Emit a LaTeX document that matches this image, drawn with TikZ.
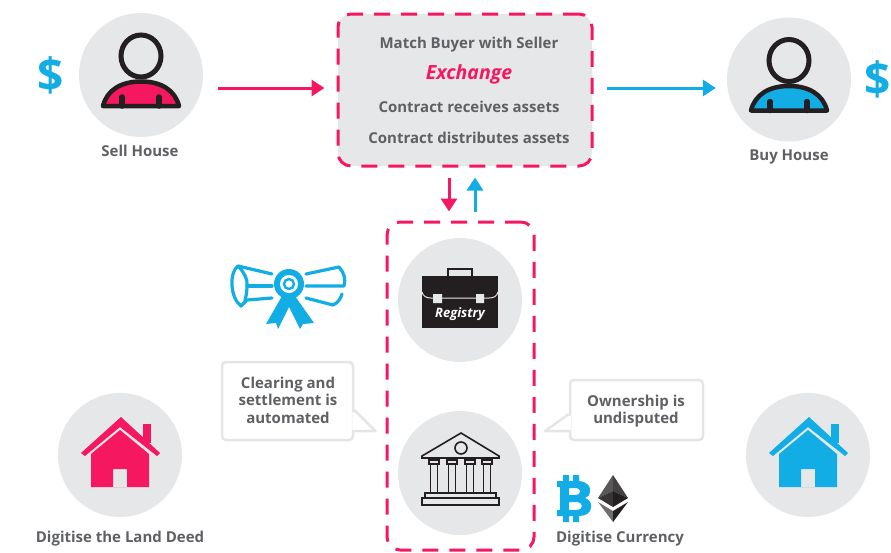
\documentclass[tikz,border=0pt]{standalone}
\usepackage{fontspec}
\setmainfont{Open Sans}
\usetikzlibrary{arrows.meta}
\definecolor{pinkc}{HTML}{F5175F}
\definecolor{bluec}{HTML}{12ADE4}
\definecolor{disc}{HTML}{E5E7E8}
\definecolor{txt}{HTML}{5E6063}
\definecolor{ink}{HTML}{231F20}
\definecolor{bub}{HTML}{E4E6E6}
\tikzset{
  x=1pt,y=-1pt,
  discnode/.style={circle,fill=disc,minimum size=124pt,inner sep=0pt},
  dashbox/.style={draw=pinkc,line width=3pt,rounded corners=13pt,dash pattern=on 16pt off 11pt,inner sep=0pt},
  label/.style={text=txt,font=\fontsize{15}{17.6}\selectfont\bfseries,inner sep=0pt,align=center},
  bubbox/.style={draw=bub,line width=2.5pt,fill=white,rounded corners=4pt,inner sep=0pt},
  arr/.style={line width=3pt,-{Triangle[length=13pt,width=16pt]}},
  dollar/.style={text=bluec,font=\fontsize{46}{46}\selectfont\bfseries,inner sep=0pt},
  pics/person/.style={code={
    \draw[ink,fill=#1,line width=4.5pt,line join=round] (-38,31) .. controls (-34,15) and (-20,6.5) .. (0,6.5) .. controls (20,6.5) and (34,15) .. (38,31) -- cycle;
    \draw[ink,fill=disc,line width=5pt] (0,-19) ellipse[x radius=20,y radius=21];
    \draw[ink,line width=5.5pt,line cap=round] (-19,22) -- (-19,31) (18,22) -- (18,31);
  }},
  pics/house/.style={code={
    \fill[#1] (23,-31) rectangle (31,-12);
    \fill[#1,line join=round] (1,-38) -- (40,-2) -- (37,1) -- (0,-28) -- (-35,1) -- (-39,-2) -- cycle;
    \fill[#1,even odd rule] (0,-25) -- (29,-1) -- (29,32) -- (-29,32) -- (-29,-1) -- cycle
      (-7,14) rectangle (7,32);
  }}
}
\begin{document}
\begin{tikzpicture}
\useasboundingbox (0,0) rectangle (891,552);
% discs
\node[discnode] (sell) at (141,75) {};
\node[discnode] (buy) at (789,79.5) {};
\node[dashbox,fill=disc,minimum width=254pt,minimum height=152pt] (exch) at (465,90) {};
\node[dashbox,minimum width=147pt,minimum height=328pt] (reg) at (460.5,386) {};
\node[discnode] (regd) at (460,300) {};
\node[discnode] (bank) at (460,473) {};
\node[discnode] (hl) at (120,455) {};
\node[discnode] (hr) at (808,455) {};
% persons and houses
\pic at (sell.center) {person=pinkc};
\pic at (buy.center) {person=bluec};
\pic at (hl.center) {house=pinkc};
\pic at (hr.center) {house=bluec};
% dollars
\node[dollar] (dl) at (50.5,75) {\$};
\node[dollar] (dr) at (877.5,79.5) {\$};
% labels
\node[label] (ls) at (140,151) {Sell House};
\node[label] (lb) at (789,157) {Buy House};
\node[label] (ld) at (120,538.5) {Digitise the Land Deed};
\node[label] (lc) at (620,538.5) {Digitise Currency};
\node[label] (t1) at (469,44.5) {Match Buyer with Seller};
\node[text=pinkc,font=\fontsize{19.5}{22}\selectfont\bfseries\itshape,inner sep=0pt] (t2) at (469,74.5) {Exchange};
\node[label] (t3) at (469,106.5) {Contract receives assets};
\node[label] (t4) at (469,138) {Contract distributes assets};
% arrows
\draw[arr,pinkc] ([shift={(15,13)}]sell.east) -- ([shift={(-12,-2)}]exch.west);
\draw[arr,bluec] ([shift={(13,-2)}]exch.east) -- ([shift={(-11,8.5)}]buy.west);
\draw[arr,pinkc] ([shift={(-16,10)}]exch.south) -- ([shift={(-11.5,-9)}]reg.north);
\draw[arr,bluec] ([shift={(14.5,-9)}]reg.north) -- ([shift={(10,10)}]exch.south);
% bubbles
\node[bubbox,minimum width=131pt,minimum height=78pt] (bl) at (287.5,401) {};
\fill[white] ([shift={(-2,10.5)}]bl.east) -- (375.5,431) -- ([shift={(-2,28.8)}]bl.east) -- cycle;
\draw[bub,line width=2.5pt,line join=round] ([shift={(0,9)}]bl.east) -- (375.5,431) -- ([shift={(0,30)}]bl.east);
\node[label] (blt) at (288,400) {Clearing and\\settlement is\\automated};
\node[bubbox,minimum width=133pt,minimum height=60pt] (br) at (636.5,410) {};
\fill[white] ([shift={(2,5.5)}]br.west) -- (545,431) -- ([shift={(2,19.8)}]br.west) -- cycle;
\draw[bub,line width=2.5pt,line join=round] ([shift={(0,4)}]br.west) -- (545,431) -- ([shift={(0,21)}]br.west);
\node[label] (brt) at (636,411) {Ownership is\\undisputed};
% briefcase
\draw[ink,line width=2pt,fill=disc] (448,277) -- (448,269) -- (472,269) -- (472,277);
\fill[ink] (422,276) rectangle (498,328);
\draw[disc,line width=1pt] (422,292) .. controls (423,296) and (426,298) .. (431,298) -- (489,298) .. controls (494,298) and (497,296) .. (498,292);
\fill[disc] (433,294) rectangle (442,303) (476,294) rectangle (484,303);
\node[text=white,font=\fontsize{13}{15}\selectfont\bfseries\itshape,inner sep=0pt] (rt) at (460,314.5) {Registry};
% bank
\begin{scope}[ink,line width=1.6pt,line join=miter]
\draw (461,433) -- (499,456) -- (499,458) -- (422,458) -- (422,456) -- cycle;
\draw (461,448) circle[radius=6];
\foreach \c in {434,452,470,487}{
  \draw (\c-5,460) rectangle (\c+5,464);
  \draw (\c-3.5,464) -- (\c-3.5,492) (\c+3.5,464) -- (\c+3.5,492);
}
\draw (425,498) -- (425,493) -- (496,493) -- (496,498);
\draw (422,498) rectangle (499,505);
\end{scope}
% certificate
\begin{scope}[bluec,line width=3.2pt,line cap=round,line join=round]
\draw (238,266) .. controls (229,272) and (230,298) .. (241,306) -- (246,301);
\draw (238,266) .. controls (244,272) and (248,280) .. (247,286) .. controls (247,292) and (246,296) .. (245,301);
\draw (238,266) -- (272,274);
\draw (247,286) -- (272,286);
\draw (247,300) -- (272,298);
\draw (306,274) -- (339,267) .. controls (344,272) and (346,280) .. (344,286) -- (306,286);
\draw (306,298) -- (333,305) .. controls (338,303) and (341,298) .. (342,294);
\fill (282,296) -- (266,324) -- (276,323) -- (278,329) -- (289,307) -- (300,329) -- (303,324) -- (314,323) -- (295,296) -- cycle;
\end{scope}
\fill[bluec] (289,284) circle[radius=15];
\fill[white] (289,284) circle[radius=9];
\draw[bluec,line width=2.4pt] (289,284) circle[radius=5];
% bitcoin B
\fill[bluec,even odd rule]
  (557,481) -- (563,481) -- (563,475) -- (569,475) -- (569,481) -- (573,481) -- (573,475) -- (579,475) -- (579,481)
  .. controls (588,482) and (591,487) .. (590,492) .. controls (590,495) and (588,497) .. (585,498)
  .. controls (589,499) and (592,503) .. (591,508) .. controls (590,513) and (586,516) .. (579,516)
  -- (579,522) -- (573,522) -- (573,516) -- (569,516) -- (569,522) -- (563,522) -- (563,516) -- (557,516)
  -- (557,510) -- (560,510) -- (560,487) -- (557,487) -- cycle
  (569,488) -- (575,488) .. controls (582,488) and (582,495) .. (575,495) -- (569,495) -- cycle
  (569,502) -- (576,502) .. controls (584,502) and (584,510) .. (576,510) -- (569,510) -- cycle;
% ethereum
\fill[ink!75] (613,475) -- (598,498) -- (613,491) -- cycle;
\fill[ink!85] (613,475) -- (628,498) -- (613,491) -- cycle;
\fill[ink!90] (598,498) -- (613,491) -- (613,507) -- cycle;
\fill[ink] (628,498) -- (613,491) -- (613,507) -- cycle;
\fill[ink!65] (598,502) -- (613,522) -- (613,511) -- cycle;
\fill[ink] (628,502) -- (613,522) -- (613,511) -- cycle;
\end{tikzpicture}
\end{document}
